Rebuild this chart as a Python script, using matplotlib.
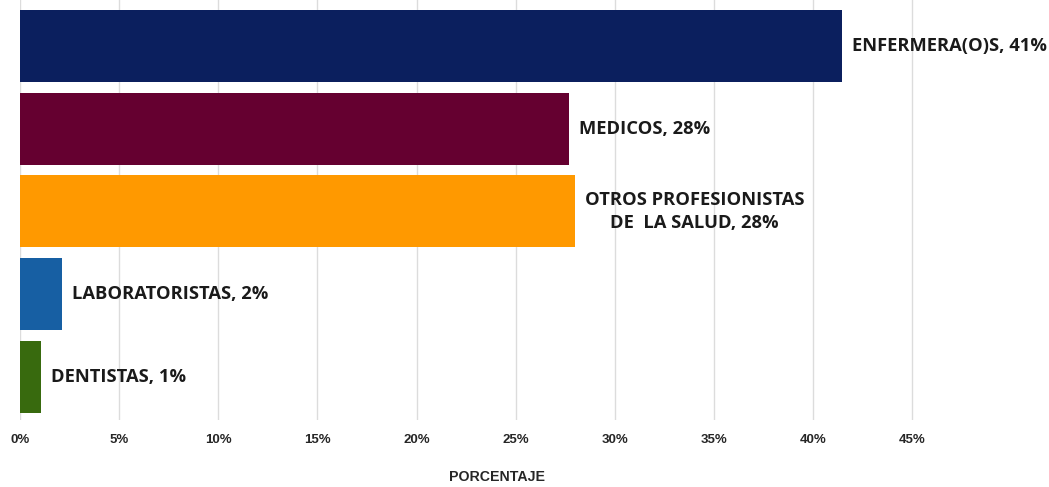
import matplotlib.pyplot as plt

# datos (de abajo hacia arriba)
categorias = ['DENTISTAS', 'LABORATORISTAS', 'OTROS PROFESIONISTAS\nDE  LA SALUD', 'MEDICOS', 'ENFERMERA(O)S']
valores = [1.05, 2.1, 28.0, 27.7, 41.45]
etiquetas = ['1%', '2%', '28%', '28%', '41%']
colores = ['#386a0e', '#175fa3', '#ff9900', '#650030', '#0b1f5e']
ticks = [0, 5, 10, 15, 20, 25, 30, 35, 40, 45]

fig = plt.figure(figsize=(10.49, 4.87), dpi=100)
ax = fig.add_axes([20/1049, 1 - 420/487, 1 - 20/1049, 420/487])

ypos = list(range(len(categorias)))
ax.barh(ypos, valores, height=0.87, color=colores, zorder=2)

for y, v, c, e in zip(ypos, valores, categorias, etiquetas):
    ax.text(v + 0.5, y, c + ', ' + e, va='center', ha='left', multialignment='center',
            fontsize=13.2, fontweight='bold', family='Open Sans', color='#1a1a1a',
            linespacing=1.3)

ax.set_xlim(0, 51.9)
ax.set_ylim(-0.52, 4.556)
ax.set_xticks(ticks)
ax.set_xticklabels([str(t) + '%' for t in ticks], fontsize=9.5, fontweight='bold',
                   family='Liberation Sans', color='#262626')
ax.set_yticks([])
ax.tick_params(axis='x', length=0, pad=10)
ax.grid(axis='x', color='#dcdcdc', linewidth=1, zorder=0)
for s in ax.spines.values():
    s.set_visible(False)

fig.text(497/1049, 1 - 477/487, 'PORCENTAJE', ha='center', va='center',
         fontsize=10.2, fontweight='bold', family='Liberation Sans', color='#262626')

fig.savefig('out.png', dpi=100)
